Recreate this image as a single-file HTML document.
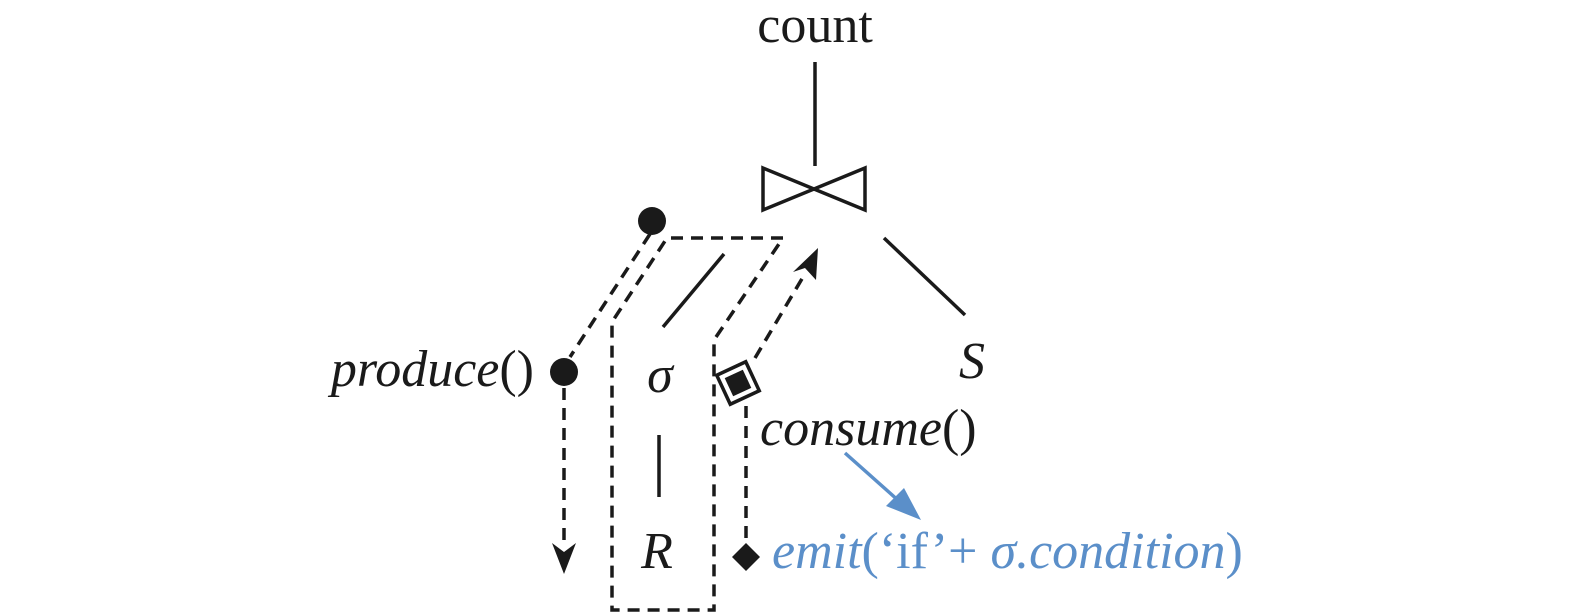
<!DOCTYPE html>
<html><head><meta charset="utf-8"><style>
html,body{margin:0;padding:0;background:#fff;}
svg{display:block;}
text{font-family:"Liberation Serif",serif;font-size:52px;}
</style></head><body>
<svg width="1575" height="616" viewBox="0 0 1575 616" xmlns="http://www.w3.org/2000/svg">
<g fill="#1a1a1a">
<text x="815" y="42" text-anchor="middle">count</text>
<text x="972" y="378" text-anchor="middle" font-style="italic">S</text>
<text x="660" y="392" text-anchor="middle" font-style="italic">σ</text>
<text x="657" y="568" text-anchor="middle" font-style="italic">R</text>
<text x="534" y="386" text-anchor="end"><tspan font-style="italic">produce</tspan>()</text>
<text x="760" y="445"><tspan font-style="italic">consume</tspan>()</text>
</g>
<text x="772" y="568" fill="#5b8fc9"><tspan font-style="italic">emit</tspan>(‘if’+ <tspan font-style="italic">σ.condition</tspan>)</text>
<g stroke="#1a1a1a" stroke-width="3.5" fill="none">
<line x1="815" y1="62" x2="815" y2="166"/>
<polygon points="763,168 763,210 865,168 865,210"/>
<line x1="884" y1="238" x2="965" y2="315"/>
<line x1="724" y1="254" x2="663" y2="327"/>
<line x1="659" y1="435" x2="659" y2="497"/>
</g>
<g stroke="#1a1a1a" stroke-width="3.5" fill="none" stroke-dasharray="12,8">
<line x1="650" y1="234" x2="570" y2="357"/>
<line x1="564" y1="388" x2="564" y2="548"/>
<polyline points="783,238 667,238 612,322 612,610 714,610 714,340 783,238"/>
<line x1="755" y1="358" x2="806" y2="272"/>
<line x1="746" y1="406" x2="746" y2="545"/>
</g>
<g fill="#1a1a1a">
<circle cx="652" cy="221" r="14"/>
<circle cx="564" cy="372" r="14"/>
<polygon points="552,543 564,552 576,543 564,574"/>
<polygon points="818,248 816,280 805,268 793,272"/>
<polygon points="746,543 760,557 746,571 732,557"/>
</g>
<g transform="translate(738,383) rotate(-25)">
<rect x="-16" y="-16" width="32" height="32" fill="#fff" stroke="#1a1a1a" stroke-width="3.5"/>
<rect x="-10" y="-10" width="20" height="20" fill="#1a1a1a"/>
</g>
<line x1="845" y1="453" x2="900" y2="502" stroke="#5b8fc9" stroke-width="3.5"/>
<polygon points="921,520 886,506 904,488" fill="#5b8fc9"/>
</svg>
</body></html>
